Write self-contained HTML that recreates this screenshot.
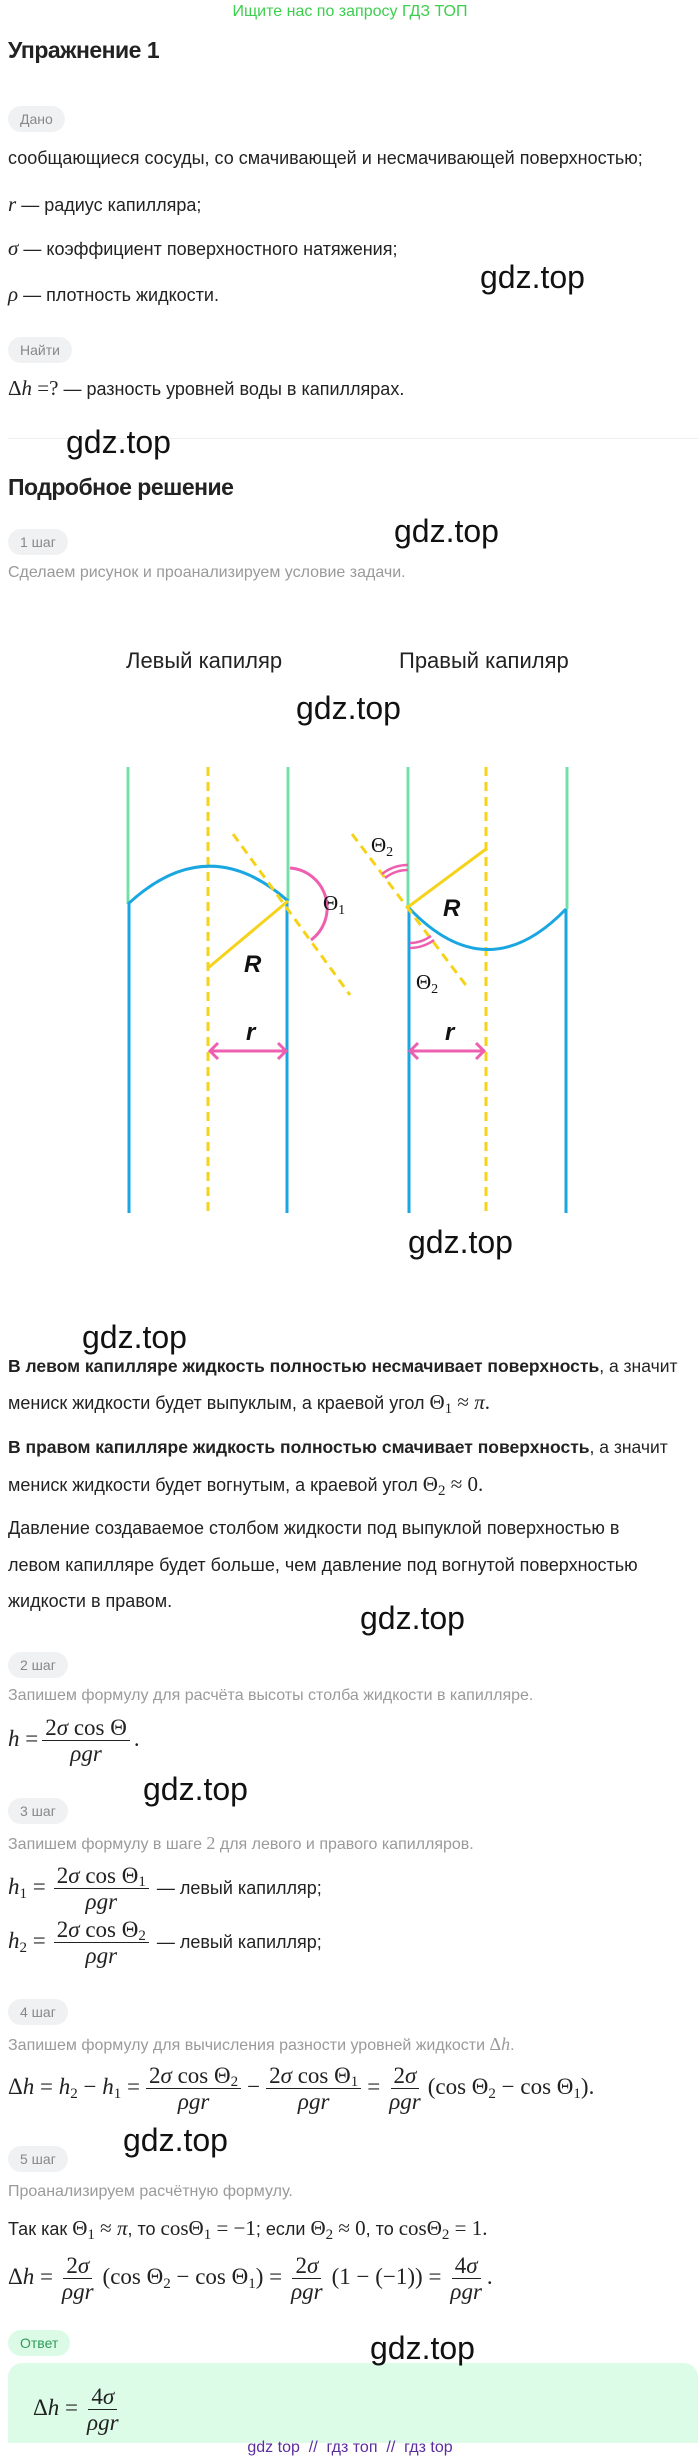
<!DOCTYPE html>
<html><head><meta charset="utf-8">
<style>
*{margin:0;padding:0;box-sizing:border-box}
body{width:700px;height:2462px;position:relative;background:#fff;font-family:"Liberation Sans",sans-serif;color:#222;overflow:hidden}
.a{position:absolute;white-space:nowrap}
.t{font-size:18px;line-height:20px}
.g{font-size:16px;color:#9a9a9a;line-height:18px}
.pill{position:absolute;left:8px;height:26px;border-radius:13px;background:#f0f1f3;color:#888;font-size:14px;line-height:26px;padding:0 12px}
.wm{position:absolute;font-size:32px;color:#111;line-height:36px;white-space:nowrap}
.m{font-family:"Liberation Serif",serif;font-size:21px}
.i{font-style:italic}
.fr{display:inline-flex;flex-direction:column;align-items:center;vertical-align:middle;margin:0 4px;line-height:24px}
.fr>span{display:block;padding:0 3px;line-height:25px}
.fr>span:first-child{border-bottom:1.3px solid #222}
.f{font-family:"Liberation Serif",serif;font-size:23px;line-height:52px;height:52px}
sub{font-size:15px;vertical-align:-4px;line-height:0}
.fr sub{vertical-align:-3px}
.tx{font-family:"Liberation Sans",sans-serif;font-size:18px}
</style></head><body>

<div class="a" style="left:0;width:700px;text-align:center;top:3px;font-size:16px;color:#3ccf4e">Ищите нас по запросу ГДЗ ТОП</div>
<div class="a" style="left:8px;top:37px;font-size:23px;font-weight:bold;letter-spacing:-0.5px">Упражнение 1</div>

<div class="pill" style="top:106px">Дано</div>
<div class="a t" style="left:8px;top:148px">сообщающиеся сосуды, со смачивающей и несмачивающей поверхностью;</div>
<div class="a t" style="left:8px;top:194px"><span class="m i">r</span> — радиус капилляра;</div>
<div class="a t" style="left:8px;top:238px"><span class="m i">σ</span> — коэффициент поверхностного натяжения;</div>
<div class="a t" style="left:8px;top:284px"><span class="m i">ρ</span> — плотность жидкости.</div>
<div class="wm" style="left:480px;top:259px">gdz.top</div>

<div class="pill" style="top:337px">Найти</div>
<div class="a t" style="left:8px;top:378px"><span class="m">Δ<i>h</i> =?</span> — разность уровней воды в капиллярах.</div>
<div class="a" style="left:8px;top:438px;width:690px;height:1px;background:#eee"></div>
<div class="wm" style="left:66px;top:424px">gdz.top</div>
<div class="a" style="left:8px;top:474px;font-size:23px;font-weight:bold;letter-spacing:-0.5px">Подробное решение</div>
<div class="wm" style="left:394px;top:513px">gdz.top</div>
<div class="pill" style="top:529px">1 шаг</div>
<div class="a g" style="left:8px;top:564px">Сделаем рисунок и проанализируем условие задачи.</div>

<div class="a" style="left:126px;top:648px;font-size:22px">Левый капиляр</div>
<div class="a" style="left:399px;top:648px;font-size:22px">Правый капиляр</div>
<div class="wm" style="left:296px;top:690px">gdz.top</div>

<svg class="a" style="left:0;top:0" width="700" height="1300" viewBox="0 0 700 1300">
<g fill="none" stroke-width="3">
<line x1="128" y1="767" x2="128" y2="904" stroke="#74e0a8"/>
<line x1="129" y1="904" x2="129" y2="1213" stroke="#1aa6e0"/>
<line x1="288" y1="767" x2="288" y2="901" stroke="#74e0a8"/>
<line x1="287" y1="901" x2="287" y2="1213" stroke="#1aa6e0"/>
<line x1="208" y1="767" x2="208" y2="1213" stroke="#f5d31a" stroke-dasharray="9,6"/>
<path d="M128,904 Q208,830 288,901" stroke="#1aa6e0"/>
<line x1="288" y1="901" x2="208" y2="968" stroke="#f5d31a"/>
<line x1="233" y1="834" x2="350" y2="995" stroke="#f5d31a" stroke-dasharray="9,6"/>
<path d="M290,868 A40,40 0 0 1 311,940" stroke="#ee5fb0"/>
<line x1="210" y1="1051" x2="286" y2="1051" stroke="#ee5fb0"/>
<path d="M218,1043 L210,1051 L218,1059 M278,1043 L286,1051 L278,1059" stroke="#ee5fb0"/>
<line x1="408" y1="767" x2="408" y2="907" stroke="#74e0a8"/>
<line x1="409" y1="907" x2="409" y2="1213" stroke="#1aa6e0"/>
<line x1="567" y1="767" x2="567" y2="909" stroke="#74e0a8"/>
<line x1="566" y1="909" x2="566" y2="1213" stroke="#1aa6e0"/>
<line x1="486" y1="767" x2="486" y2="1213" stroke="#f5d31a" stroke-dasharray="9,6"/>
<path d="M408,907 Q487,991 566,909" stroke="#1aa6e0"/>
<line x1="408" y1="907" x2="486" y2="849" stroke="#f5d31a"/>
<line x1="352" y1="834" x2="468" y2="988" stroke="#f5d31a" stroke-dasharray="9,6"/>
<path d="M385,878 A37,37 0 0 1 408,870 M382,874 A42,42 0 0 1 408,865" stroke="#ee5fb0" stroke-width="2.5"/>
<path d="M410,943 A37,37 0 0 0 431,936 M410,948 A42,42 0 0 0 434,940" stroke="#ee5fb0" stroke-width="2.5"/>
<line x1="410" y1="1051" x2="484" y2="1051" stroke="#ee5fb0"/>
<path d="M418,1043 L410,1051 L418,1059 M476,1043 L484,1051 L476,1059" stroke="#ee5fb0"/>
</g>
<g font-family="Liberation Sans,sans-serif" font-weight="bold" font-style="italic" font-size="24" fill="#111">
<text x="244" y="972">R</text><text x="443" y="916">R</text>
<text x="246" y="1040">r</text><text x="445" y="1040">r</text>
</g>
<g font-family="Liberation Serif,serif" font-size="21" fill="#111">
<text x="323" y="910">Θ<tspan font-size="14" dy="4">1</tspan></text>
<text x="371" y="852">Θ<tspan font-size="14" dy="4">2</tspan></text>
<text x="416" y="989">Θ<tspan font-size="14" dy="4">2</tspan></text>
</g>
</svg>
<div class="wm" style="left:408px;top:1224px">gdz.top</div>

<div class="wm" style="left:82px;top:1319px">gdz.top</div>
<div class="a t" style="left:8px;top:1356px;font-size:17.5px"><b>В левом капилляре жидкость полностью несмачивает поверхность</b>, а значит</div>
<div class="a t" style="left:8px;top:1392px">мениск жидкости будет выпуклым, а краевой угол <span class="m">Θ<sub>1</sub> ≈ <i>π</i>.</span></div>
<div class="a t" style="left:8px;top:1437px;font-size:17.5px"><b>В правом капилляре жидкость полностью смачивает поверхность</b>, а значит</div>
<div class="a t" style="left:8px;top:1474px">мениск жидкости будет вогнутым, а краевой угол <span class="m">Θ<sub>2</sub> ≈ 0.</span></div>
<div class="a t" style="left:8px;top:1518px">Давление создаваемое столбом жидкости под выпуклой поверхностью в</div>
<div class="a t" style="left:8px;top:1555px">левом капилляре будет больше, чем давление под вогнутой поверхностью</div>
<div class="a t" style="left:8px;top:1591px">жидкости в правом.</div>
<div class="wm" style="left:360px;top:1600px">gdz.top</div>

<div class="pill" style="top:1652px">2 шаг</div>
<div class="a g" style="left:8px;top:1687px">Запишем формулу для расчёта высоты столба жидкости в капилляре.</div>
<div class="a f" style="left:8px;top:1713px"><i>h</i> =<span class="fr"><span>2<i>σ</i> cos Θ</span><span><i>ρgr</i></span></span>.</div>
<div class="wm" style="left:143px;top:1771px">gdz.top</div>

<div class="pill" style="top:1798px">3 шаг</div>
<div class="a g" style="left:8px;top:1834px">Запишем формулу в шаге <span class="m" style="font-size:18px">2</span> для левого и правого капилляров.</div>
<div class="a f" style="left:8px;top:1861px"><i>h</i><sub>1</sub> =<span class="fr" style="margin:0 8px"><span>2<i>σ</i> cos Θ<sub>1</sub></span><span><i>ρgr</i></span></span><span class="tx">— левый капилляр;</span></div>
<div class="a f" style="left:8px;top:1915px"><i>h</i><sub>2</sub> =<span class="fr" style="margin:0 8px"><span>2<i>σ</i> cos Θ<sub>2</sub></span><span><i>ρgr</i></span></span><span class="tx">— левый капилляр;</span></div>

<div class="pill" style="top:1999px">4 шаг</div>
<div class="a g" style="left:8px;top:2035px">Запишем формулу для вычисления разности уровней жидкости <span class="m" style="font-size:18px">Δ<i>h</i></span>.</div>
<div class="a f" style="left:8px;top:2061px">Δ<i>h</i> = <i>h</i><sub>2</sub> − <i>h</i><sub>1</sub> =<span class="fr" style="margin:0 6px"><span>2<i>σ</i> cos Θ<sub>2</sub></span><span><i>ρgr</i></span></span>−<span class="fr" style="margin:0 6px"><span>2<i>σ</i> cos Θ<sub>1</sub></span><span><i>ρgr</i></span></span>=<span class="fr" style="margin:0 4px 0 6px"><span>2<i>σ</i></span><span><i>ρgr</i></span></span>(cos Θ<sub>2</sub> − cos Θ<sub>1</sub>).</div>
<div class="wm" style="left:123px;top:2122px">gdz.top</div>

<div class="pill" style="top:2146px">5 шаг</div>
<div class="a g" style="left:8px;top:2183px">Проанализируем расчётную формулу.</div>
<div class="a t" style="left:8px;top:2218px">Так как <span class="m">Θ<sub>1</sub> ≈ <i>π</i></span>, то <span class="m">cosΘ<sub>1</sub> = −1</span>; если <span class="m">Θ<sub>2</sub> ≈ 0</span>, то <span class="m">cosΘ<sub>2</sub> = 1.</span></div>
<div class="a f" style="left:8px;top:2251px">Δ<i>h</i> =<span class="fr" style="margin:0 6px"><span>2<i>σ</i></span><span><i>ρgr</i></span></span>(cos Θ<sub>2</sub> − cos Θ<sub>1</sub>) =<span class="fr" style="margin:0 6px"><span>2<i>σ</i></span><span><i>ρgr</i></span></span>(1 − (−1)) =<span class="fr" style="margin:0 2px 0 6px"><span>4<i>σ</i></span><span><i>ρgr</i></span></span>.</div>

<div class="pill" style="top:2330px;background:#dcfbe7;color:#2e9b5c">Ответ</div>
<div class="a" style="left:8px;top:2363px;width:690px;height:80px;background:#dcfce8;border-radius:14px 14px 0 0"></div>
<div class="wm" style="left:370px;top:2330px">gdz.top</div>
<div class="a f" style="left:33px;top:2382px">Δ<i>h</i> =<span class="fr" style="margin:0 6px"><span>4<i>σ</i></span><span><i>ρgr</i></span></span></div>

<div class="a" style="left:0;width:700px;text-align:center;top:2438px;font-size:16px;color:#5b2d9e;line-height:20px">gdz top &nbsp;// &nbsp;гдз топ &nbsp;// &nbsp;гдз top</div>
</body></html>
